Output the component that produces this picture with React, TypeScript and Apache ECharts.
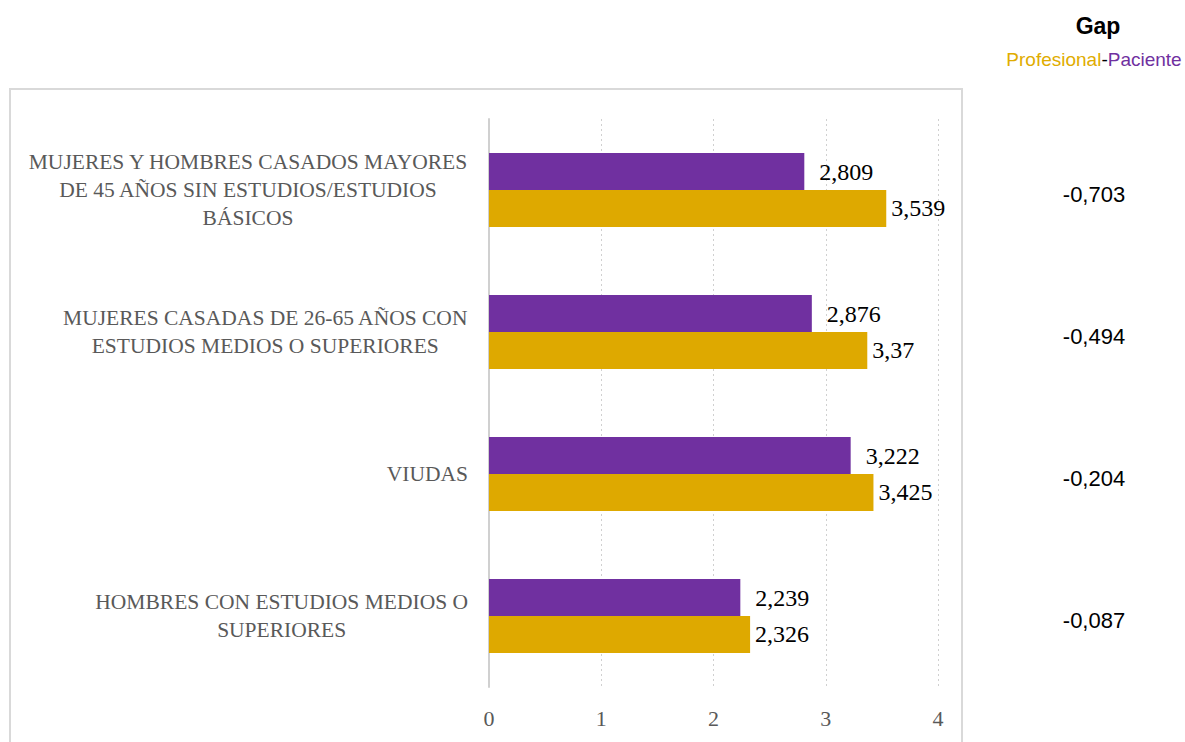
import React, { useEffect, useRef } from "react";
import * as echarts from "echarts";

const categories = [
  "MUJERES Y HOMBRES CASADOS MAYORES\nDE 45 AÑOS SIN ESTUDIOS/ESTUDIOS\nBÁSICOS",
  "MUJERES CASADAS DE 26-65 AÑOS CON\nESTUDIOS MEDIOS O SUPERIORES",
  "VIUDAS",
  "HOMBRES CON ESTUDIOS MEDIOS O\nSUPERIORES",
];
const paciente = [2.809, 2.876, 3.222, 2.239];
const profesional = [3.539, 3.37, 3.425, 2.326];
const gaps = ["-0,703", "-0,494", "-0,204", "-0,087"];
const xTicks = [0, 1, 2, 3, 4];

const PURPLE = "#7030A0";
const GOLD = "#DEA900";
const SERIF = "'Liberation Serif', 'DejaVu Serif', serif";
const SANS = "'Liberation Sans', 'Open Sans', sans-serif";

const fmt = (v: number) => String(v).replace(".", ",");

export default function App() {
  const ref = useRef<HTMLDivElement>(null);
  useEffect(() => {
    if (!ref.current) return;
    const chart = echarts.init(ref.current, undefined, { renderer: "svg" });
    chart.setOption({
      animation: false,
      backgroundColor: "#ffffff",
      grid: { left: 489, width: 449, top: 119, height: 568 },
      xAxis: {
        type: "value",
        min: xTicks[0],
        max: xTicks[xTicks.length - 1],
        interval: 1,
        axisLine: { show: false },
        axisTick: { show: false },
        splitLine: { show: true, lineStyle: { color: "#d0d0d0", type: [2, 3], width: 1 } },
        axisLabel: { color: "#595959", fontFamily: SERIF, fontSize: 22, margin: 20 },
      },
      yAxis: [
        {
          type: "category",
          data: categories,
          inverse: true,
          axisLine: { show: true, lineStyle: { color: "#d0d0d0", width: 2 } },
          axisTick: { show: false },
          axisLabel: {
            margin: 21,
            formatter: (v: string) =>
              v
                .split("\n")
                .map((l) => "{a|" + l + "}")
                .join("\n"),
            rich: {
              a: {
                color: "#595959",
                fontFamily: SERIF,
                fontSize: 21.5,
                lineHeight: 28,
                align: "center",
              },
            },
          },
        },
        {
          type: "category",
          data: gaps,
          inverse: true,
          position: "right",
          axisLine: { show: false },
          axisTick: { show: false },
          axisLabel: {
            align: "center",
            margin: 156,
            formatter: (v: string) => "{g|" + v + "}",
            rich: {
              g: {
                color: "#000000",
                fontFamily: SANS,
                fontSize: 22,
                padding: [8, 0, 0, 0],
              },
            },
          },
        },
      ],
      series: [
        {
          name: "Paciente",
          type: "bar",
          data: paciente,
          yAxisIndex: 0,
          itemStyle: { color: PURPLE },
          barGap: "0%",
          barCategoryGap: "48%",
          label: {
            show: true,
            position: "right",
            distance: 15,
            formatter: (p: any) => fmt(p.value),
            color: "#000",
            fontFamily: SERIF,
            fontSize: 24,
          },
        },
        {
          name: "Profesional",
          type: "bar",
          data: profesional,
          yAxisIndex: 0,
          itemStyle: { color: GOLD },
          barGap: "0%",
          barCategoryGap: "48%",
          label: {
            show: true,
            position: "right",
            distance: 5,
            formatter: (p: any) => fmt(p.value),
            color: "#000",
            fontFamily: SERIF,
            fontSize: 24,
          },
        },
      ],
      graphic: [
        {
          type: "rect",
          z: -1,
          shape: { x: 10, y: 89, width: 952, height: 700 },
          style: { fill: "none", stroke: "#d9d9d9", lineWidth: 2 },
        },
        {
          type: "text",
          x: 1098,
          y: 26,
          style: {
            text: "Gap",
            fontFamily: SANS,
            fontWeight: "bold",
            fontSize: 23,
            fill: "#000",
            align: "center",
            verticalAlign: "middle",
          },
        },
        {
          type: "text",
          x: 1094,
          y: 59,
          style: {
            text: "{p|Profesional}{d|-}{q|Paciente}",
            align: "center",
            verticalAlign: "middle",
            rich: {
              p: { fill: "#E0AC00", fontFamily: SANS, fontSize: 19 },
              d: { fill: "#000", fontFamily: SANS, fontSize: 19 },
              q: { fill: PURPLE, fontFamily: SANS, fontSize: 19 },
            },
          },
        },
      ],
    });
    return () => chart.dispose();
  }, []);
  return (
    <div
      ref={ref}
      style={{ position: "fixed", left: 0, top: 0, width: 1185, height: 742 }}
    />
  );
}
